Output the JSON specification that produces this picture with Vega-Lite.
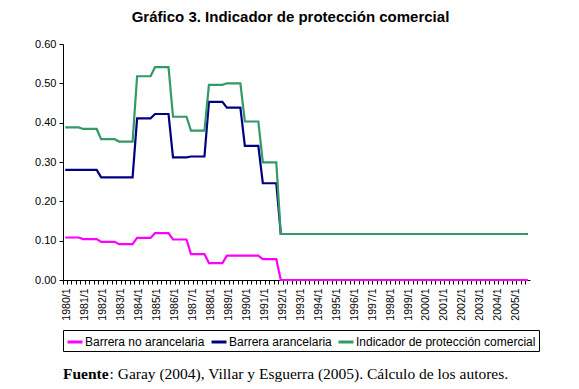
{
  "$schema": "https://vega.github.io/schema/vega-lite/v6.json",
  "background": "white",
  "padding": {"left": 34, "top": 10, "right": 5, "bottom": 2},
  "title": {
    "text": "Fuente",
    "subtitle": "\u200b\u00a0\u00a0\u00a0\u00a0\u00a0\u00a0\u00a0\u00a0\u00a0\u00a0\u00a0\u00a0: Garay (2004), Villar y Esguerra (2005). Cálculo de los autores.",
    "orient": "bottom",
    "anchor": "start",
    "frame": "group",
    "font": "Liberation Serif",
    "fontSize": 15.5,
    "fontWeight": "bold",
    "color": "black",
    "subtitleFont": "Liberation Serif",
    "subtitleFontSize": 15.5,
    "subtitleFontWeight": "normal",
    "subtitleColor": "black",
    "subtitlePadding": -15.5,
    "offset": 15
  },
  "config": {
    "view": {"stroke": null},
    "axis": {
      "domainColor": "black",
      "tickColor": "black",
      "labelColor": "black",
      "labelFont": "Liberation Sans",
      "grid": false,
      "title": null,
      "tickSize": 4
    },
    "legend": {
      "labelFont": "Liberation Sans",
      "labelFontSize": 12,
      "labelColor": "black",
      "labelLimit": 400
    }
  },
  "datasets": {
    "q": [
      {"q": "1980/1", "na": 0.108, "a": 0.280, "i": 0.388},
      {"q": "1980/2", "na": 0.108, "a": 0.280, "i": 0.388},
      {"q": "1980/3", "na": 0.108, "a": 0.280, "i": 0.388},
      {"q": "1980/4", "na": 0.108, "a": 0.280, "i": 0.388},
      {"q": "1981/1", "na": 0.104, "a": 0.280, "i": 0.384},
      {"q": "1981/2", "na": 0.104, "a": 0.280, "i": 0.384},
      {"q": "1981/3", "na": 0.104, "a": 0.280, "i": 0.384},
      {"q": "1981/4", "na": 0.104, "a": 0.280, "i": 0.384},
      {"q": "1982/1", "na": 0.097, "a": 0.261, "i": 0.358},
      {"q": "1982/2", "na": 0.097, "a": 0.261, "i": 0.358},
      {"q": "1982/3", "na": 0.097, "a": 0.261, "i": 0.358},
      {"q": "1982/4", "na": 0.097, "a": 0.261, "i": 0.358},
      {"q": "1983/1", "na": 0.091, "a": 0.261, "i": 0.352},
      {"q": "1983/2", "na": 0.091, "a": 0.261, "i": 0.352},
      {"q": "1983/3", "na": 0.091, "a": 0.261, "i": 0.352},
      {"q": "1983/4", "na": 0.091, "a": 0.261, "i": 0.352},
      {"q": "1984/1", "na": 0.107, "a": 0.411, "i": 0.518},
      {"q": "1984/2", "na": 0.107, "a": 0.411, "i": 0.518},
      {"q": "1984/3", "na": 0.107, "a": 0.411, "i": 0.518},
      {"q": "1984/4", "na": 0.107, "a": 0.411, "i": 0.518},
      {"q": "1985/1", "na": 0.119, "a": 0.422, "i": 0.541},
      {"q": "1985/2", "na": 0.119, "a": 0.422, "i": 0.541},
      {"q": "1985/3", "na": 0.119, "a": 0.422, "i": 0.541},
      {"q": "1985/4", "na": 0.119, "a": 0.422, "i": 0.541},
      {"q": "1986/1", "na": 0.103, "a": 0.312, "i": 0.415},
      {"q": "1986/2", "na": 0.103, "a": 0.312, "i": 0.415},
      {"q": "1986/3", "na": 0.103, "a": 0.312, "i": 0.415},
      {"q": "1986/4", "na": 0.103, "a": 0.312, "i": 0.415},
      {"q": "1987/1", "na": 0.066, "a": 0.314, "i": 0.380},
      {"q": "1987/2", "na": 0.066, "a": 0.314, "i": 0.380},
      {"q": "1987/3", "na": 0.066, "a": 0.314, "i": 0.380},
      {"q": "1987/4", "na": 0.066, "a": 0.314, "i": 0.380},
      {"q": "1988/1", "na": 0.043, "a": 0.453, "i": 0.496},
      {"q": "1988/2", "na": 0.043, "a": 0.453, "i": 0.496},
      {"q": "1988/3", "na": 0.043, "a": 0.453, "i": 0.496},
      {"q": "1988/4", "na": 0.043, "a": 0.453, "i": 0.496},
      {"q": "1989/1", "na": 0.062, "a": 0.438, "i": 0.500},
      {"q": "1989/2", "na": 0.062, "a": 0.438, "i": 0.500},
      {"q": "1989/3", "na": 0.062, "a": 0.438, "i": 0.500},
      {"q": "1989/4", "na": 0.062, "a": 0.438, "i": 0.500},
      {"q": "1990/1", "na": 0.062, "a": 0.341, "i": 0.403},
      {"q": "1990/2", "na": 0.062, "a": 0.341, "i": 0.403},
      {"q": "1990/3", "na": 0.062, "a": 0.341, "i": 0.403},
      {"q": "1990/4", "na": 0.062, "a": 0.341, "i": 0.403},
      {"q": "1991/1", "na": 0.053, "a": 0.246, "i": 0.299},
      {"q": "1991/2", "na": 0.053, "a": 0.246, "i": 0.299},
      {"q": "1991/3", "na": 0.053, "a": 0.246, "i": 0.299},
      {"q": "1991/4", "na": 0.053, "a": 0.246, "i": 0.299},
      {"q": "1992/1", "na": 0, "a": 0.117, "i": 0.117},
      {"q": "1992/2", "na": 0, "a": 0.117, "i": 0.117},
      {"q": "1992/3", "na": 0, "a": 0.117, "i": 0.117},
      {"q": "1992/4", "na": 0, "a": 0.117, "i": 0.117},
      {"q": "1993/1", "na": 0, "a": 0.117, "i": 0.117},
      {"q": "1993/2", "na": 0, "a": 0.117, "i": 0.117},
      {"q": "1993/3", "na": 0, "a": 0.117, "i": 0.117},
      {"q": "1993/4", "na": 0, "a": 0.117, "i": 0.117},
      {"q": "1994/1", "na": 0, "a": 0.117, "i": 0.117},
      {"q": "1994/2", "na": 0, "a": 0.117, "i": 0.117},
      {"q": "1994/3", "na": 0, "a": 0.117, "i": 0.117},
      {"q": "1994/4", "na": 0, "a": 0.117, "i": 0.117},
      {"q": "1995/1", "na": 0, "a": 0.117, "i": 0.117},
      {"q": "1995/2", "na": 0, "a": 0.117, "i": 0.117},
      {"q": "1995/3", "na": 0, "a": 0.117, "i": 0.117},
      {"q": "1995/4", "na": 0, "a": 0.117, "i": 0.117},
      {"q": "1996/1", "na": 0, "a": 0.117, "i": 0.117},
      {"q": "1996/2", "na": 0, "a": 0.117, "i": 0.117},
      {"q": "1996/3", "na": 0, "a": 0.117, "i": 0.117},
      {"q": "1996/4", "na": 0, "a": 0.117, "i": 0.117},
      {"q": "1997/1", "na": 0, "a": 0.117, "i": 0.117},
      {"q": "1997/2", "na": 0, "a": 0.117, "i": 0.117},
      {"q": "1997/3", "na": 0, "a": 0.117, "i": 0.117},
      {"q": "1997/4", "na": 0, "a": 0.117, "i": 0.117},
      {"q": "1998/1", "na": 0, "a": 0.117, "i": 0.117},
      {"q": "1998/2", "na": 0, "a": 0.117, "i": 0.117},
      {"q": "1998/3", "na": 0, "a": 0.117, "i": 0.117},
      {"q": "1998/4", "na": 0, "a": 0.117, "i": 0.117},
      {"q": "1999/1", "na": 0, "a": 0.117, "i": 0.117},
      {"q": "1999/2", "na": 0, "a": 0.117, "i": 0.117},
      {"q": "1999/3", "na": 0, "a": 0.117, "i": 0.117},
      {"q": "1999/4", "na": 0, "a": 0.117, "i": 0.117},
      {"q": "2000/1", "na": 0, "a": 0.117, "i": 0.117},
      {"q": "2000/2", "na": 0, "a": 0.117, "i": 0.117},
      {"q": "2000/3", "na": 0, "a": 0.117, "i": 0.117},
      {"q": "2000/4", "na": 0, "a": 0.117, "i": 0.117},
      {"q": "2001/1", "na": 0, "a": 0.117, "i": 0.117},
      {"q": "2001/2", "na": 0, "a": 0.117, "i": 0.117},
      {"q": "2001/3", "na": 0, "a": 0.117, "i": 0.117},
      {"q": "2001/4", "na": 0, "a": 0.117, "i": 0.117},
      {"q": "2002/1", "na": 0, "a": 0.117, "i": 0.117},
      {"q": "2002/2", "na": 0, "a": 0.117, "i": 0.117},
      {"q": "2002/3", "na": 0, "a": 0.117, "i": 0.117},
      {"q": "2002/4", "na": 0, "a": 0.117, "i": 0.117},
      {"q": "2003/1", "na": 0, "a": 0.117, "i": 0.117},
      {"q": "2003/2", "na": 0, "a": 0.117, "i": 0.117},
      {"q": "2003/3", "na": 0, "a": 0.117, "i": 0.117},
      {"q": "2003/4", "na": 0, "a": 0.117, "i": 0.117},
      {"q": "2004/1", "na": 0, "a": 0.117, "i": 0.117},
      {"q": "2004/2", "na": 0, "a": 0.117, "i": 0.117},
      {"q": "2004/3", "na": 0, "a": 0.117, "i": 0.117},
      {"q": "2004/4", "na": 0, "a": 0.117, "i": 0.117},
      {"q": "2005/1", "na": 0, "a": 0.117, "i": 0.117},
      {"q": "2005/2", "na": 0, "a": 0.117, "i": 0.117},
      {"q": "2005/3", "na": 0, "a": 0.117, "i": 0.117},
      {"q": "2005/4", "na": 0, "a": 0.117, "i": 0.117}
    ]
  },
  "vconcat": [
    {
      "width": 467,
      "height": 236,
      "title": {
        "text": "Gráfico 3. Indicador de protección comercial",
        "font": "Liberation Sans",
        "fontSize": 15,
        "fontWeight": "bold",
        "color": "black",
        "anchor": "middle",
        "dx": -6,
        "offset": 13
      },
      "data": {"name": "q"},
      "transform": [{"fold": ["na", "a", "i"], "as": ["serie", "valor"]}],
      "mark": {"type": "line", "strokeWidth": 2.2},
      "encoding": {
        "x": {
          "field": "q",
          "type": "ordinal",
          "bandPosition": 0.5,
          "scale": {"type": "band", "paddingInner": 0, "paddingOuter": 0},
          "axis": {
            "labelAngle": -90,
            "labelFontSize": 10.5,
            "labelPadding": 4,
            "bandPosition": 0,
            "labelOffset": 2,
            "labelOverlap": false,
            "labelBound": false,
            "labelExpr": "slice(datum.value, -2) == '/1' ? datum.value : ''"
          }
        },
        "y": {
          "field": "valor",
          "type": "quantitative",
          "scale": {"domain": [0, 0.6], "nice": false},
          "axis": {
            "values": [0, 0.1, 0.2, 0.3, 0.4, 0.5, 0.6],
            "format": ".2f",
            "labelFontSize": 11,
            "labelPadding": 3
          }
        },
        "color": {
          "field": "serie",
          "type": "nominal",
          "scale": {"domain": ["na", "a", "i"], "range": ["#FF00FF", "#000080", "#339966"]},
          "legend": {
            "title": null,
            "orient": "bottom",
            "direction": "horizontal",
            "strokeColor": "black",
            "padding": 3,
            "offset": 9,
            "symbolType": "stroke",
            "symbolSize": 225,
            "symbolStrokeWidth": 3,
            "columnPadding": 0,
            "labelOffset": 1,
            "labelExpr": "datum.value == 'na' ? 'Barrera no arancelaria' : datum.value == 'a' ? 'Barrera arancelaria' : 'Indicador de protección comercial'"
          }
        }
      }
    }
  ]
}
